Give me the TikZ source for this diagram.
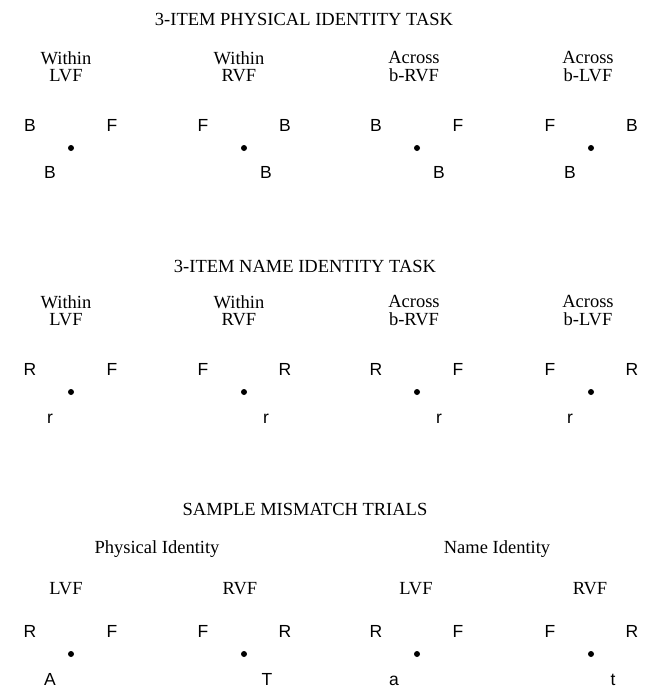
\documentclass[tikz,border=0pt]{standalone}
\usepackage{fontspec}
\setmainfont{Liberation Serif}
\newfontfamily\stimfont{Liberation Sans}
\usetikzlibrary{positioning}

\begin{document}
\begin{tikzpicture}[
    x=1pt, y=-1pt,
    fixdot/.style={circle, fill=black, inner sep=0pt, minimum size=6pt},
    stim/.style={font=\stimfont\fontsize{17.5}{17.5}\selectfont, inner sep=0pt},
    heading/.style={font=\fontsize{18.5}{18}\selectfont, inner sep=0pt, anchor=base},
    field/.style={font=\fontsize{18.5}{17.5}\selectfont, align=center, inner sep=0pt}
]
\useasboundingbox (0,0) rectangle (649,689);

% ===================================================================
% 3-ITEM PHYSICAL IDENTITY TASK
% ===================================================================
\node[heading] (title1) at (304,25) {3-ITEM PHYSICAL IDENTITY TASK};

\node[field] (h11) at (66,66.5) {Within\\LVF};
\node[field] (h12) at (239,66.5) {Within\\RVF};
\node[field] (h13) at (414,66.5) {Across\\b-RVF};
\node[field] (h14) at (588,66.5) {Across\\b-LVF};

\node[fixdot] (f11) at (71,148) {};
\node[fixdot] (f12) at (244,148) {};
\node[fixdot] (f13) at (417,148) {};
\node[fixdot] (f14) at (591,148) {};

\node[stim, above left=17pt and 41pt of f11.center, anchor=base] (a11) {B};
\node[stim, above right=17pt and 41pt of f11.center, anchor=base] (b11) {F};
\node[stim, below left=30pt and 21pt of f11.center, anchor=base] (c11) {B};

\node[stim, above left=17pt and 41pt of f12.center, anchor=base] (a12) {F};
\node[stim, above right=17pt and 41pt of f12.center, anchor=base] (b12) {B};
\node[stim, below right=30pt and 22pt of f12.center, anchor=base] (c12) {B};

\node[stim, above left=17pt and 41pt of f13.center, anchor=base] (a13) {B};
\node[stim, above right=17pt and 41pt of f13.center, anchor=base] (b13) {F};
\node[stim, below right=30pt and 22pt of f13.center, anchor=base] (c13) {B};

\node[stim, above left=17pt and 41pt of f14.center, anchor=base] (a14) {F};
\node[stim, above right=17pt and 41pt of f14.center, anchor=base] (b14) {B};
\node[stim, below left=30pt and 21pt of f14.center, anchor=base] (c14) {B};

% ===================================================================
% 3-ITEM NAME IDENTITY TASK
% ===================================================================
\node[heading] (title2) at (305,272) {3-ITEM NAME IDENTITY TASK};

\node[field] (h21) at (66,310.5) {Within\\LVF};
\node[field] (h22) at (239,310.5) {Within\\RVF};
\node[field] (h23) at (414,310.5) {Across\\b-RVF};
\node[field] (h24) at (588,310.5) {Across\\b-LVF};

\node[fixdot] (f21) at (71,392) {};
\node[fixdot] (f22) at (244,392) {};
\node[fixdot] (f23) at (417,392) {};
\node[fixdot] (f24) at (591,392) {};

\node[stim, above left=17pt and 41pt of f21.center, anchor=base] (a21) {R};
\node[stim, above right=17pt and 41pt of f21.center, anchor=base] (b21) {F};
\node[stim, below left=31pt and 21pt of f21.center, anchor=base] (c21) {r};

\node[stim, above left=17pt and 41pt of f22.center, anchor=base] (a22) {F};
\node[stim, above right=17pt and 41pt of f22.center, anchor=base] (b22) {R};
\node[stim, below right=31pt and 22pt of f22.center, anchor=base] (c22) {r};

\node[stim, above left=17pt and 41pt of f23.center, anchor=base] (a23) {R};
\node[stim, above right=17pt and 41pt of f23.center, anchor=base] (b23) {F};
\node[stim, below right=31pt and 22pt of f23.center, anchor=base] (c23) {r};

\node[stim, above left=17pt and 41pt of f24.center, anchor=base] (a24) {F};
\node[stim, above right=17pt and 41pt of f24.center, anchor=base] (b24) {R};
\node[stim, below left=31pt and 21pt of f24.center, anchor=base] (c24) {r};

% ===================================================================
% SAMPLE MISMATCH TRIALS
% ===================================================================
\node[heading] (title3) at (305,515) {SAMPLE MISMATCH TRIALS};

\node[heading] (phys) at (157,553) {Physical Identity};
\node[heading] (name) at (497,553) {Name Identity};

\node[heading] (h31) at (66,594) {LVF};
\node[heading] (h32) at (240,594) {RVF};
\node[heading] (h33) at (416,594) {LVF};
\node[heading] (h34) at (590,594) {RVF};

\node[fixdot] (f31) at (71,654) {};
\node[fixdot] (f32) at (244,654) {};
\node[fixdot] (f33) at (417,654) {};
\node[fixdot] (f34) at (591,654) {};

\node[stim, above left=17pt and 41pt of f31.center, anchor=base] (a31) {R};
\node[stim, above right=17pt and 41pt of f31.center, anchor=base] (b31) {F};
\node[stim, below left=31pt and 21pt of f31.center, anchor=base] (c31) {A};

\node[stim, above left=17pt and 41pt of f32.center, anchor=base] (a32) {F};
\node[stim, above right=17pt and 41pt of f32.center, anchor=base] (b32) {R};
\node[stim, below right=31pt and 23pt of f32.center, anchor=base] (c32) {T};

\node[stim, above left=17pt and 41pt of f33.center, anchor=base] (a33) {R};
\node[stim, above right=17pt and 41pt of f33.center, anchor=base] (b33) {F};
\node[stim, below left=31pt and 23pt of f33.center, anchor=base] (c33) {a};

\node[stim, above left=17pt and 41pt of f34.center, anchor=base] (a34) {F};
\node[stim, above right=17pt and 41pt of f34.center, anchor=base] (b34) {R};
\node[stim, below right=31pt and 22pt of f34.center, anchor=base] (c34) {t};

\end{tikzpicture}
\end{document}
